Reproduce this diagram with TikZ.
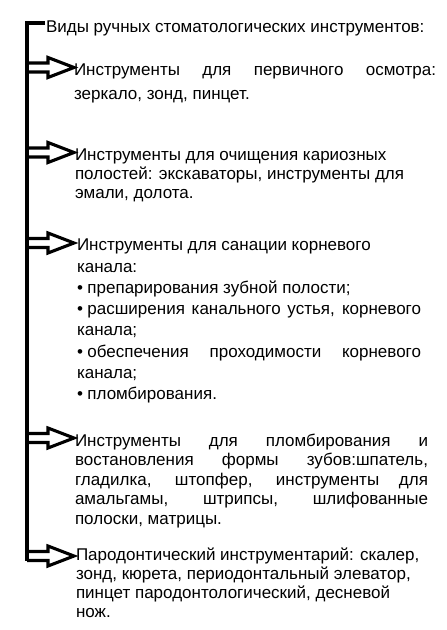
\documentclass[tikz,border=0pt]{standalone}
\usepackage{fontspec}
\setmainfont{Liberation Sans}
\newcommand\bul{•\hspace{4.5pt}}
\begin{document}
\begin{tikzpicture}[x=1pt,y=-1pt,
  blk/.style={anchor=base west, inner sep=0pt, outer sep=0pt, font=\fontsize{17}{19}\selectfont},
  spine/.style={draw=black, line width=3.2pt},
  arr/.style={draw=black, line width=3.1pt, fill=white, line join=miter},
  hollowarrow/.pic={\draw[arr] (0,-4.5) -- (21,-4.5) -- (21,-10) -- (47,0) -- (21,10) -- (21,4.5) -- (0,4.5);}
]
\useasboundingbox (0,0) rectangle (447,630);
\fill[white] (0,0) rectangle (447,630);

\node[blk] (title) at (46,32) {Виды ручных стоматологических инструментов:};

\node[blk] (b1) at (74,75) {\parbox[t]{362pt}{\fontsize{17}{24}\selectfont
Инструменты для первичного осмотра:\linebreak
зеркало, зонд, пинцет.}};

\node[blk] (b2) at (75,160) {\parbox[t]{362pt}{\fontsize{17}{19}\selectfont\raggedright
Инструменты для очищения кариозных\\
полостей: экскаваторы, инструменты для\\
эмали, долота.}};

\node[blk] (b3) at (77,250.7) {\parbox[t]{344pt}{\fontsize{17}{21.3}\selectfont
Инструменты для санации корневого\hfill\break
канала:\par
\bul препарирования зубной полости;\par
\bul расширения канального устья, корневого\linebreak
канала;\par
\bul обеспечения проходимости корневого\linebreak
канала;\par
\bul пломбирования.}};

\node[blk] (b4) at (75,446) {\parbox[t]{353pt}{\fontsize{17}{19.5}\selectfont
Инструменты для пломбирования и\linebreak
востановления формы зубов:шпатель,\linebreak
гладилка, штопфер, инструменты для\linebreak
амальгамы, штрипсы, шлифованные\linebreak
полоски, матрицы.}};

\node[blk] (b5) at (76,560) {\parbox[t]{362pt}{\fontsize{17}{19.2}\selectfont\raggedright
Пародонтический инструментарий: скалер,\\
зонд, кюрета, периодонтальный элеватор,\\
пинцет пародонтологический, десневой\\
нож.}};

\coordinate (top) at (45,23);
\foreach \n/\t in {1/67.5,2/152.5,3/243,4/438,5/556}{
  \coordinate (s\n) at (27,\t);
  \pic at (s\n) {hollowarrow};
}
\coordinate (bottom) at (27,560.5);
\draw[spine] (top) -- (27,23) -- (bottom);
\end{tikzpicture}
\end{document}
